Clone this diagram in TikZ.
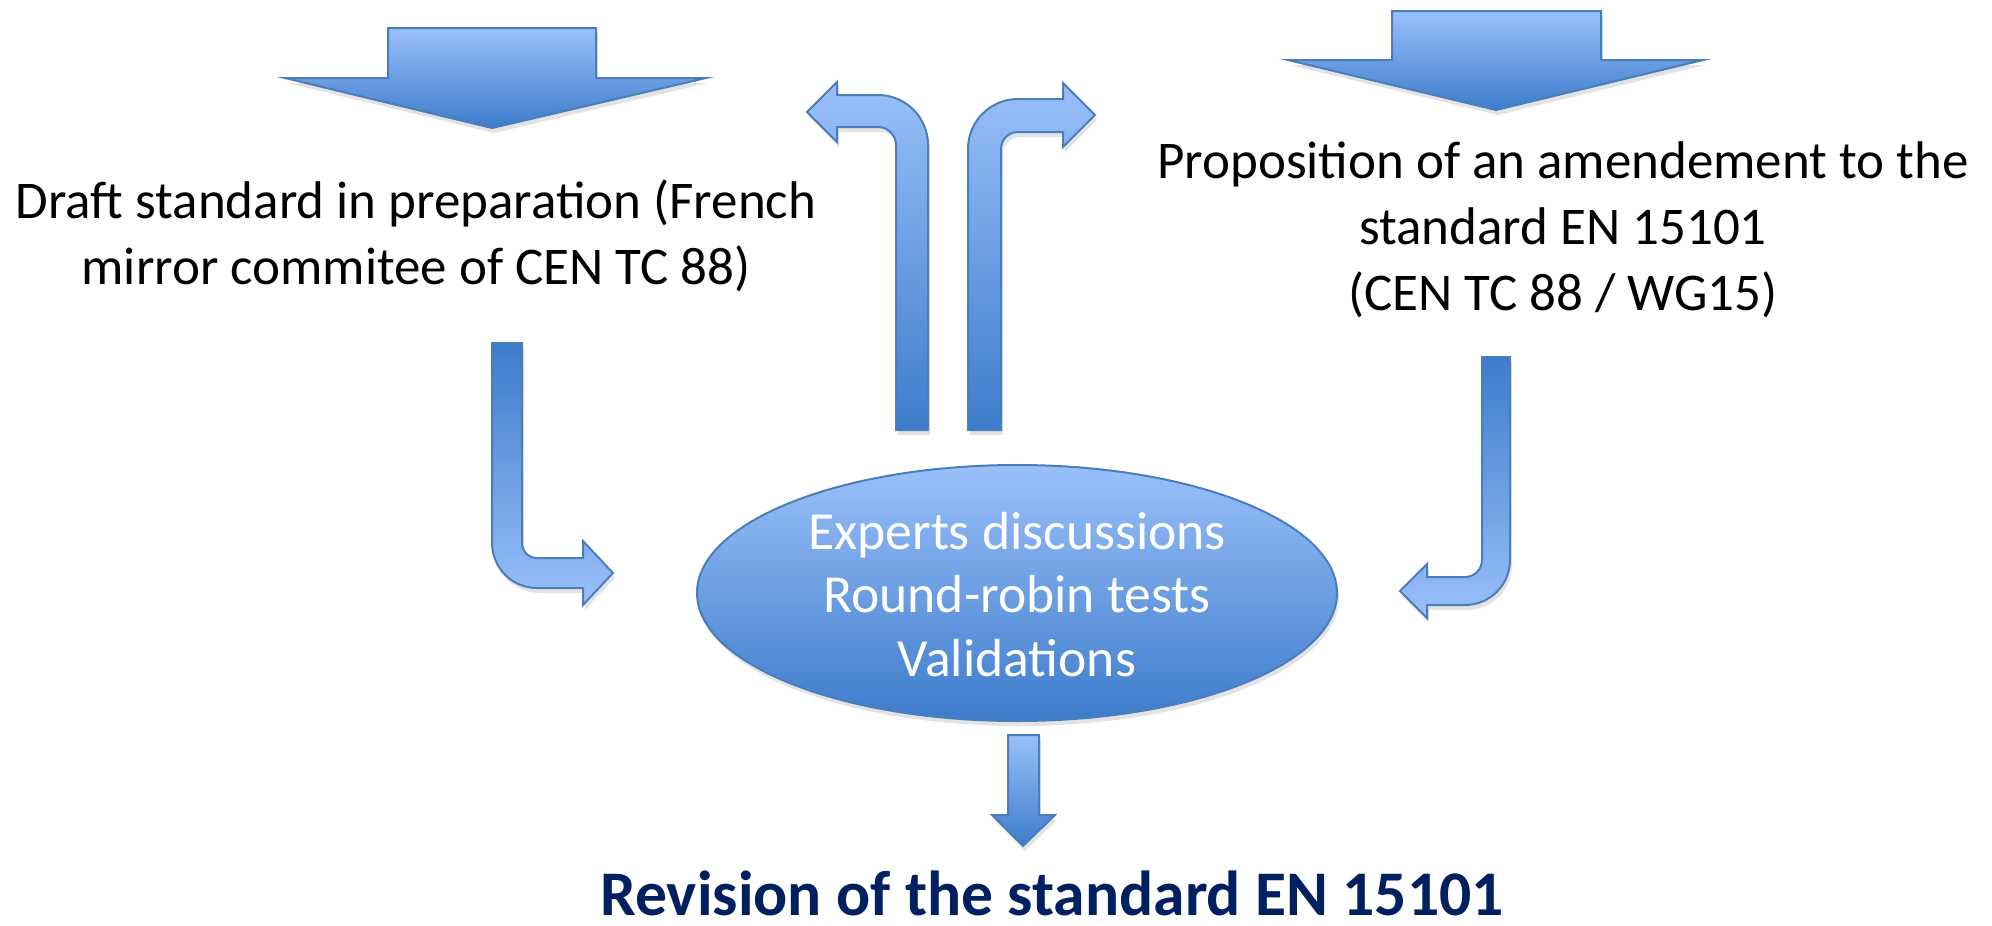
\documentclass[tikz,border=0pt]{standalone}
\usepackage{fontspec}
\setmainfont{Carlito}
\usetikzlibrary{shapes.geometric,shadows}
\definecolor{lightb}{HTML}{9AC0FA}
\definecolor{darkb}{HTML}{3D7CCB}
\definecolor{edgeb}{HTML}{4A7EBB}
\definecolor{navy}{HTML}{002060}
\begin{document}
\begin{tikzpicture}[x=0.5pt,y=-0.5pt,
  blk/.style={top color=lightb, bottom color=darkb, draw=edgeb, line width=1pt, line join=miter,
    drop shadow={opacity=0.22, shadow xshift=1pt, shadow yshift=-2.5pt}},
  blkr/.style={blk, top color=darkb, bottom color=lightb},
  txt/.style={anchor=base, font=\fontsize{26.5pt}{32pt}\selectfont, inner sep=0pt},
  wtxt/.style={txt, text=white, font=\fontsize{26.8pt}{32pt}\selectfont},
  btxt/.style={anchor=base, inner sep=0pt, text depth=0pt, text=navy, font=\fontsize{31.8pt}{36pt}\selectfont\bfseries},
]
\useasboundingbox (0,0) rectangle (1992,926);

% top-left block arrow
\path[blk] (388,28) -- (596,28) -- (596,78) -- (706,78) -- (492,128) -- (285,78) -- (388,78) -- cycle;
% top-right block arrow
\path[blk] (1392,11) -- (1601,11) -- (1601,60) -- (1703,60) -- (1496,110) -- (1288,60) -- (1392,60) -- cycle;

% up arrow turning left
\path[blk] (928,430) -- (928,145) arc[start angle=0, end angle=-90, radius=50] -- (837,95) -- (837,82) -- (807,112)
  -- (837,142) -- (837,127) -- (878,127) arc[start angle=-90, end angle=0, radius=18] -- (896,430) -- cycle;
% up arrow turning right
\path[blk] (968,430) -- (968,149) arc[start angle=180, end angle=270, radius=50] -- (1063,99) -- (1063,83) -- (1095,115)
  -- (1063,147) -- (1063,132) -- (1018,132) arc[start angle=270, end angle=180, radius=17] -- (1001,430) -- cycle;

% left L arrow
\path[blkr] (492,343) -- (492,543) arc[start angle=180, end angle=90, radius=45] -- (583,588) -- (583,605) -- (613,573)
  -- (583,541) -- (583,558) -- (537,558) arc[start angle=90, end angle=180, radius=15] -- (522,343) -- cycle;
% right J arrow
\path[blkr] (1510,357) -- (1510,560) arc[start angle=0, end angle=90, radius=45] -- (1427,605) -- (1427,618) -- (1400,591)
  -- (1427,564) -- (1427,577) -- (1465,577) arc[start angle=90, end angle=0, radius=17] -- (1482,357) -- cycle;

% ellipse
\node[ellipse, minimum width=320pt, minimum height=128pt, inner sep=0pt, blk] (ell) at (1017,593) {};
\node[wtxt] (e1) at (1017,549) {Experts discussions};
\node[wtxt] (e2) at (1017,612) {Round-robin tests};
\node[wtxt] (e3) at (1017,676) {Validations};

% bottom arrow
\path[blk] (1008,735) -- (1039,735) -- (1039,815) -- (1055,815) -- (1023,846) -- (992,815) -- (1008,815) -- cycle;

% texts
\node[txt] (l1) at (416,218) {Draft standard in preparation (French};
\node[txt] (l2) at (416,284) {mirror commitee of CEN TC 88)};
\node[txt] (r1) at (1563,178) {Proposition of an amendement to the};
\node[txt] (r2) at (1563,244) {standard EN 15101};
\node[txt] (r3) at (1563,310) {(CEN TC 88 / WG15)};
\node[btxt] (rev) at (1052,915) {Revision of the standard EN 15101};
\end{tikzpicture}
\end{document}
